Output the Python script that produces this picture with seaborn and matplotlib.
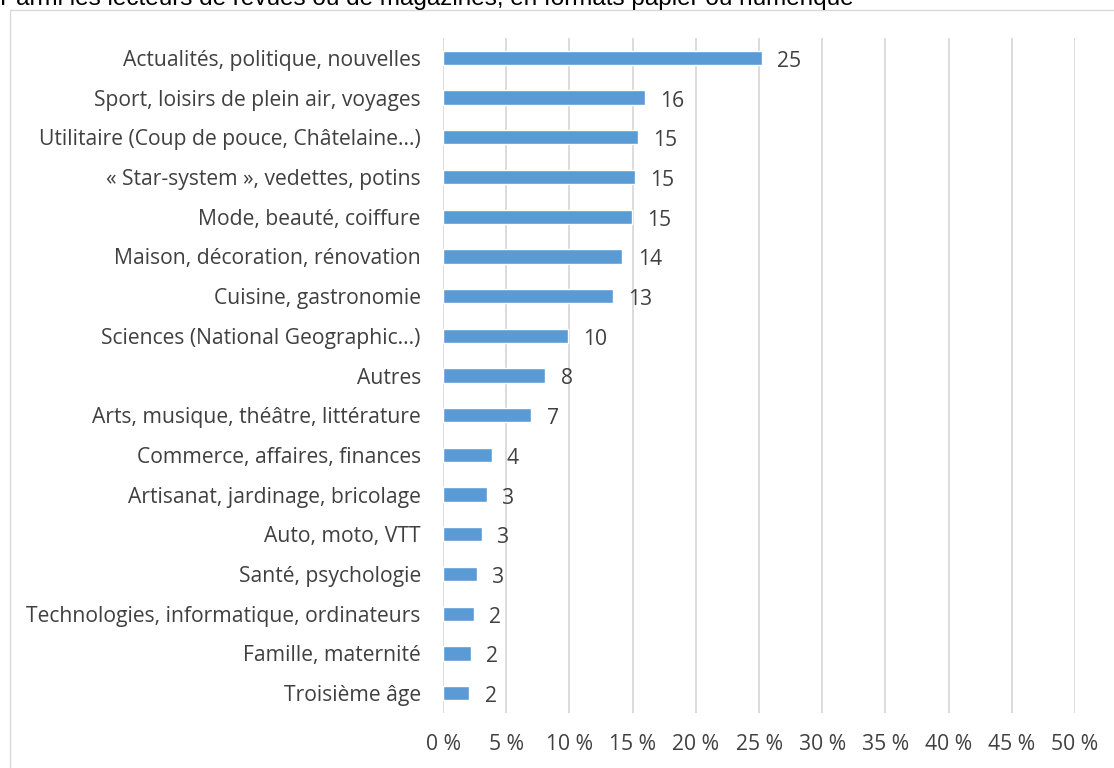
import numpy as np
import pandas as pd
import matplotlib
matplotlib.use("Agg")
from matplotlib import pyplot as plt
from matplotlib.patches import Rectangle
import seaborn as sns

sns.set_style("white")
plt.rcParams['font.family'] = ['Open Sans', 'DejaVu Sans']

title = "Parmi les lecteurs de revues ou de magazines, en formats papier ou numérique"

categories = [
    "Actualités, politique, nouvelles",
    "Sport, loisirs de plein air, voyages",
    "Utilitaire (Coup de pouce, Châtelaine...)",
    "« Star-system », vedettes, potins",
    "Mode, beauté, coiffure",
    "Maison, décoration, rénovation",
    "Cuisine, gastronomie",
    "Sciences (National Geographic...)",
    "Autres",
    "Arts, musique, théâtre, littérature",
    "Commerce, affaires, finances",
    "Artisanat, jardinage, bricolage",
    "Auto, moto, VTT",
    "Santé, psychologie",
    "Technologies, informatique, ordinateurs",
    "Famille, maternité",
    "Troisième âge",
]
values = [25.25, 15.95, 15.4, 15.17, 14.93, 14.2, 13.45, 9.85, 8.1, 7.0,
          3.85, 3.45, 3.1, 2.66, 2.47, 2.21, 2.08]
ticks = [0, 5, 10, 15, 20, 25, 30, 35, 40, 45, 50]

text_color = "#404040"
fs = 15.2
df = pd.DataFrame({"categorie": categories, "pct": values})

fig = plt.figure(figsize=(11.14, 7.68), dpi=100)
ax = fig.add_axes([443 / 1114, 1 - 713 / 768, (1075 - 443) / 1114, (713 - 38) / 768])

sns.barplot(data=df, x="pct", y="categorie", orient="h", color="#5B9BD5",
            saturation=1, width=0.36, ax=ax)

labels = ax.bar_label(ax.containers[0], fmt="{:.0f}", padding=11, fontsize=fs, color=text_color)
# nudge the value labels down a bit so they sit level with the bars
for t in labels:
    dx, dy = t.xyann
    t.xyann = (dx, dy - 2.5)

ax.set_xlim(0, 50)
ax.set_xticks(ticks)
ax.set_xticklabels([f"{t} %" for t in ticks])
ax.xaxis.grid(True, color="#D9D9D9", linewidth=1.3)
ax.set_axisbelow(True)
ax.tick_params(axis="x", length=0, pad=15, labelsize=fs, labelcolor=text_color)
ax.tick_params(axis="y", length=0, pad=16, labelsize=fs, labelcolor=text_color)
ax.set_xlabel("")
ax.set_ylabel("")
for s in ax.spines.values():
    s.set_visible(False)

# outer chart border (partly off-canvas)
fig.patches.append(Rectangle((10 / 1114, -0.01), 1.05, 1 - 10 / 768 + 0.01,
                             transform=fig.transFigure, fill=False,
                             edgecolor="#D9D9D9", linewidth=1))

fig.text(0, 1 - 5 / 768, title, ha="left", va="baseline", fontsize=17.5,
         color="black", family=["Liberation Sans", "DejaVu Sans"])

fig.savefig("out.png", dpi=100)
